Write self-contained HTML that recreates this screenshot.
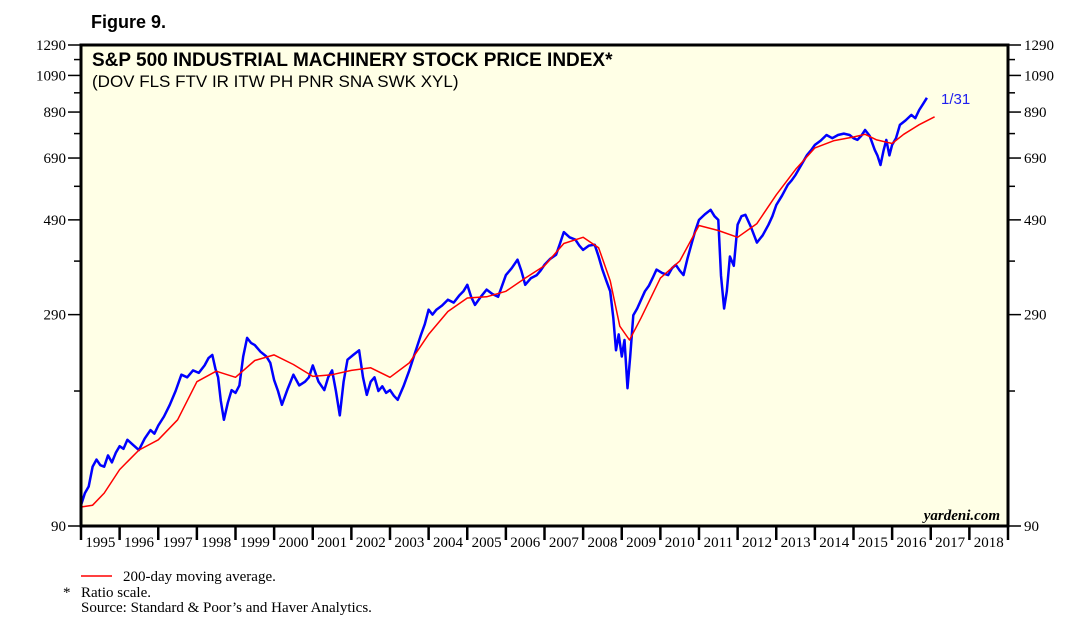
<!DOCTYPE html>
<html><head><meta charset="utf-8"><style>
body{margin:0;background:#fff;}
svg{display:block;}
.s{font-family:"Liberation Serif",serif;font-size:15px;fill:#000;}
.a{font-family:"Liberation Sans",sans-serif;}
</style></head><body>
<svg id="chart" width="1078" height="632" xmlns="http://www.w3.org/2000/svg">
<text x="91" y="28" class="a" font-size="18" font-weight="bold">Figure 9.</text>
<rect x="81" y="45" width="927" height="481" fill="#ffffe6"/>
<g id="series"></g>
<rect x="81" y="45" width="927" height="481" fill="none" stroke="#000" stroke-width="3"/>
<text x="92" y="66" class="a" font-size="19" font-weight="bold">S&amp;P 500 INDUSTRIAL MACHINERY STOCK PRICE INDEX*</text>
<text x="92" y="87" class="a" font-size="17">(DOV FLS FTV IR ITW PH PNR SNA SWK XYL)</text>
<text x="1000" y="520" class="s" font-size="15" font-style="italic" font-weight="bold" text-anchor="end">yardeni.com</text>
<text x="941" y="104" class="a" font-size="15" style="fill:#2020ee">1/31</text>
<g id="axes"></g>
<line x1="81" y1="576" x2="112" y2="576" stroke="#ff0000" stroke-width="1.5"/>
<text x="123" y="581" class="s">200-day moving average.</text>
<text x="63" y="597" class="s">*</text>
<text x="81" y="597" class="s">Ratio scale.</text>
<text x="81" y="612" class="s">Source: Standard &amp; Poor’s and Haver Analytics.</text>
</svg>
<script>
const yTicks=[90,290,490,690,890,1090,1290];
const minorTicks=[190,390,590,790,990,1190];
const years=[1995,1996,1997,1998,1999,2000,2001,2002,2003,2004,2005,2006,2007,2008,2009,2010,2011,2012,2013,2014,2015,2016,2017,2018];
const priceDates=[1995.0,1995.1,1995.2,1995.3,1995.4,1995.5,1995.6,1995.7,1995.8,1995.9,1996.0,1996.1,1996.2,1996.35,1996.5,1996.65,1996.8,1996.9,1997.0,1997.15,1997.3,1997.45,1997.6,1997.75,1997.9,1998.05,1998.2,1998.3,1998.4,1998.48,1998.55,1998.62,1998.7,1998.8,1998.9,1999.0,1999.1,1999.2,1999.3,1999.4,1999.5,1999.65,1999.8,1999.9,2000.0,2000.1,2000.2,2000.35,2000.5,2000.65,2000.8,2000.9,2001.0,2001.15,2001.3,2001.4,2001.5,2001.6,2001.7,2001.8,2001.9,2002.05,2002.2,2002.3,2002.4,2002.5,2002.6,2002.7,2002.8,2002.9,2003.0,2003.1,2003.2,2003.35,2003.5,2003.65,2003.8,2003.9,2004.0,2004.1,2004.2,2004.35,2004.5,2004.65,2004.8,2004.9,2005.0,2005.1,2005.2,2005.35,2005.5,2005.65,2005.8,2005.9,2006.0,2006.15,2006.3,2006.4,2006.5,2006.65,2006.8,2006.9,2007.0,2007.15,2007.3,2007.4,2007.5,2007.65,2007.8,2007.9,2008.0,2008.15,2008.3,2008.4,2008.5,2008.6,2008.7,2008.78,2008.85,2008.92,2009.0,2009.07,2009.15,2009.22,2009.3,2009.4,2009.5,2009.6,2009.7,2009.8,2009.9,2010.05,2010.2,2010.3,2010.4,2010.5,2010.6,2010.7,2010.8,2010.9,2011.0,2011.15,2011.3,2011.4,2011.5,2011.57,2011.65,2011.72,2011.8,2011.9,2012.0,2012.1,2012.2,2012.35,2012.5,2012.65,2012.8,2012.9,2013.0,2013.15,2013.3,2013.4,2013.5,2013.65,2013.8,2013.9,2014.0,2014.15,2014.3,2014.45,2014.6,2014.75,2014.9,2015.0,2015.1,2015.2,2015.3,2015.42,2015.55,2015.62,2015.7,2015.78,2015.85,2015.93,2016.0,2016.1,2016.2,2016.35,2016.5,2016.6,2016.7,2016.8,2016.9,2017.0,2017.08];
const priceValues=[101,108,112,125,130,126,125,133,128,135,140,138,145,141,137,146,153,150,157,165,176,190,208,205,213,210,219,228,232,215,205,180,162,178,191,188,196,230,255,248,245,236,230,222,202,190,176,192,208,196,200,205,219,200,191,205,213,190,166,200,226,232,238,205,186,200,205,190,195,188,191,185,181,195,213,235,259,275,298,290,298,305,315,310,323,330,342,320,306,320,333,325,320,340,361,375,393,370,342,355,361,370,382,395,404,430,458,445,439,425,415,425,427,400,372,350,330,285,238,260,230,252,193,230,289,300,315,330,340,355,372,365,361,375,382,370,361,395,427,460,490,505,518,500,490,360,300,330,400,380,477,500,504,470,432,450,477,500,532,560,595,610,629,665,702,720,742,760,784,770,784,790,784,770,763,780,806,780,722,700,664,720,763,700,742,770,829,850,876,860,900,930,963];
const maDates=[1995.0,1995.3,1995.6,1996.0,1996.5,1997.0,1997.5,1998.0,1998.5,1999.0,1999.5,2000.0,2000.5,2001.0,2001.5,2002.0,2002.5,2003.0,2003.5,2004.0,2004.5,2005.0,2005.5,2006.0,2006.5,2007.0,2007.5,2008.0,2008.4,2008.7,2008.95,2009.2,2009.5,2010.0,2010.5,2011.0,2011.5,2012.0,2012.5,2013.0,2013.5,2014.0,2014.5,2015.0,2015.3,2015.6,2016.0,2016.3,2016.7,2017.1];
const maValues=[100,101,108,123,137,145,162,200,212,205,225,232,220,206,208,213,216,205,222,260,295,318,320,330,355,380,430,445,420,350,272,252,285,355,390,475,462,445,480,563,648,730,760,775,787,763,748,787,830,867];
const ns="http://www.w3.org/2000/svg";
const X0=81,X1=1008,T0=1995,T1=2019,YB=526,YT=45,V0=90,V1=1290;
const xs=t=>X0+(t-T0)*(X1-X0)/(T1-T0);
const ys=v=>YB-(YB-YT)*Math.log(v/V0)/Math.log(V1/V0);
function mk(tag,attrs,parent){const e=document.createElementNS(ns,tag);for(const k in attrs)e.setAttribute(k,attrs[k]);parent.appendChild(e);return e;}
const axes=document.getElementById('axes');
yTicks.forEach(v=>{const y=ys(v);
 let l=mk('line',{x1:68,x2:81,y1:y,y2:y,stroke:'#000','stroke-width':1.5},axes);
 
 
 let r=mk('line',{x1:1008,x2:1021,y1:y,y2:y,stroke:'#000','stroke-width':1.5},axes);
 
 
 let t=mk('text',{x:66,y:y+5,'text-anchor':'end',class:'s'},axes);t.textContent=v;
 
 
 let t2=mk('text',{x:1024,y:y+5,class:'s'},axes);t2.textContent=v;
 
 
});
minorTicks.forEach(v=>{const y=ys(v);
 let l=mk('line',{x1:74,x2:81,y1:y,y2:y,stroke:'#000','stroke-width':1.5},axes);
 
 
 let r=mk('line',{x1:1008,x2:1015,y1:y,y2:y,stroke:'#000','stroke-width':1.5},axes);
 
 
});
for(let i=0;i<=years.length;i++){const x=xs(T0+i);
 let l=mk('line',{x1:x,x2:x,y1:526,y2:540,stroke:'#000','stroke-width':2.5},axes);
 
 
}
years.forEach(yr=>{let t=mk('text',{x:xs(yr+0.5),y:547,'text-anchor':'middle',class:'s'},axes);t.textContent=yr;
 
 
});
const g=document.getElementById('series');
const pts=(d,v)=>d.map((t,i)=>xs(t).toFixed(1)+','+ys(v[i]).toFixed(1)).join(' ');
let ma=mk('polyline',{points:pts(maDates,maValues),fill:'none',stroke:'#ff0000','stroke-width':1.5,'stroke-linejoin':'round'},g);


let pl=mk('polyline',{points:pts(priceDates,priceValues),fill:'none',stroke:'#0000ff','stroke-width':2.5,'stroke-linejoin':'round'},g);


g.appendChild(ma);
</script>
</body></html>
